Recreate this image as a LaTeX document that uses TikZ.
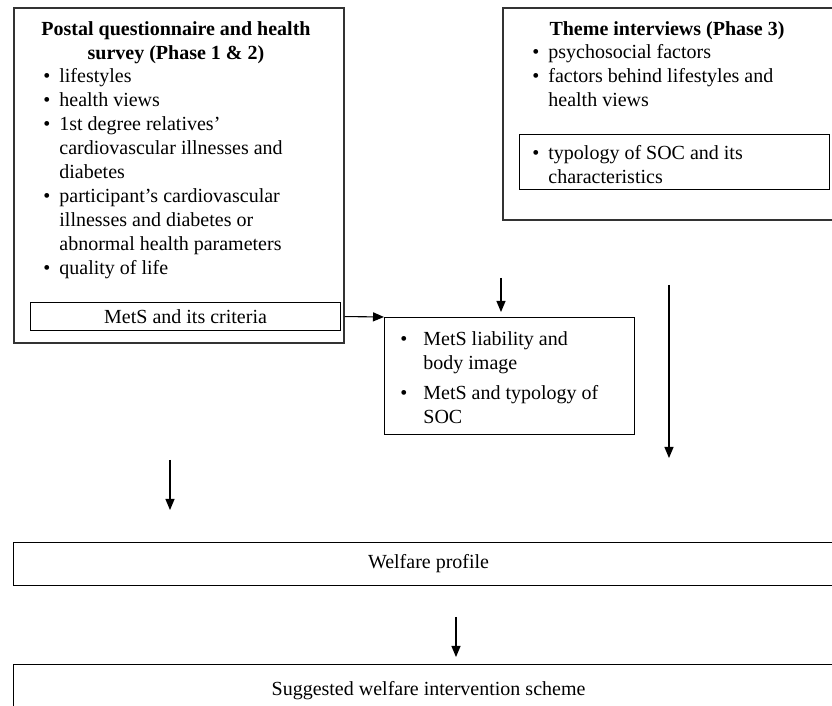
\documentclass[tikz,border=0pt]{standalone}
\usepackage{fontspec}
\setmainfont{Liberation Serif}
\usetikzlibrary{arrows.meta,positioning,calc}

% bullet line and its continuation
\newcommand{\bitem}[2][8pt]{\makebox[#1][l]{\textbullet}#2}
\newcommand{\bcont}[2][8pt]{\hspace*{#1}#2}

\begin{document}
\begin{tikzpicture}[
    x=0.5pt, y=-0.5pt,
    outer/.style={rectangle, draw=black!80, line width=0.8pt, anchor=north west, inner sep=0pt},
    inbox/.style={rectangle, draw, line width=0.55pt, anchor=north west, inner sep=0pt},
    head/.style={align=center, inner sep=0pt, anchor=north, font=\bfseries},
    list/.style={align=left, inner sep=0pt, anchor=north west},
    arrow/.style={-{Triangle[length=5.5pt,width=4.5pt]}, line width=0.55pt}
]
    \useasboundingbox (0,0) rectangle (832,706);
    \clip (0,0) rectangle (832,706);

    % survey (phase 1 & 2)
    \node[outer, minimum width=165pt, minimum height=167.5pt] (survey) at (13,7) {};
    \node[head] (surveyhead) at (176,21) {Postal questionnaire and health\\survey (Phase 1 \& 2)};
    \node[list] (surveylist) at (43,68) {\bitem{lifestyles}\\
        \bitem{health views}\\
        \bitem{1st degree relatives’}\\
        \bcont{cardiovascular illnesses and}\\
        \bcont{diabetes}\\
        \bitem{participant’s cardiovascular}\\
        \bcont{illnesses and diabetes or}\\
        \bcont{abnormal health parameters}\\
        \bitem{quality of life}};
    \node[inbox, minimum width=155pt, minimum height=14pt] (criteria) at (30,302) {MetS and its criteria};

    % theme interviews (phase 3)
    \node[outer, minimum width=166pt, minimum height=106pt] (theme) at (502,7) {};
    \node[head] (themehead) at (667,21) {Theme interviews (Phase 3)};
    \node[list] (themelist) at (532,44) {\bitem{psychosocial factors}\\
        \bitem{factors behind lifestyles and}\\
        \bcont{health views}};
    \node[inbox, minimum width=155pt, minimum height=27.5pt] (soc) at (519,134) {};
    \node[list] (soclist) at (532,145) {\bitem{typology of SOC and its}\\
        \bcont{characteristics}};

    % MetS and SOC
    \node[outer, draw=black, line width=0.6pt, minimum width=125pt, minimum height=58.5pt] (mets) at (384,317) {};
    \node[list] (metslist) at (400,331) {\bitem[11.5pt]{MetS liability and}\\
        \bcont[11.5pt]{body image}\\[3pt]
        \bitem[11.5pt]{MetS and typology of}\\
        \bcont[11.5pt]{SOC}};

    % welfare
    \node[inbox, minimum width=415pt, minimum height=21.5pt] (welfare) at (13,542) {Welfare profile};
    \node[inbox, minimum width=415pt, minimum height=26pt] (scheme) at (13,664) {Suggested welfare intervention scheme};

    \coordinate (a1) at (501,278);
    \coordinate (a2) at (669,285);
    \coordinate (a3) at (669,458);
    \coordinate (a4) at (170,460);
    \coordinate (a5) at (456,617);

    \draw[arrow] (criteria.east -| survey.east) -- (mets.north west);
    \draw[arrow, shorten >=2.5pt] (a1) -- (a1 |- mets.north);
    \draw[arrow] (a2) -- (a3);
    \draw[arrow, shorten >=16pt] (a4) -- (a4 |- welfare.north);
    \draw[arrow, shorten >=3.5pt] (a5) -- (a5 |- scheme.north);
\end{tikzpicture}
\end{document}
